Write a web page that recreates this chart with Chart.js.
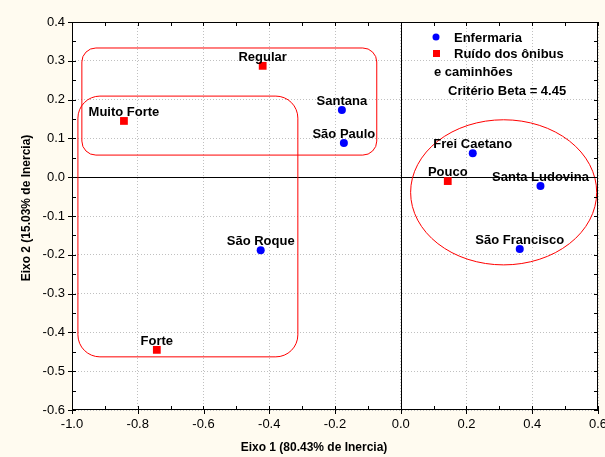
<!DOCTYPE html>
<html>
<head>
<meta charset="utf-8">
<script src="https://cdn.jsdelivr.net/npm/chart.js@4.4.0/dist/chart.umd.min.js"></script>
<style>
  html, body { margin: 0; padding: 0; background: #fffbf0; }
  #wrap { width: 605px; height: 457px; position: relative; }
</style>
</head>
<body>
<div id="wrap"><canvas id="caChart"></canvas></div>
<script>
// Enfermaria (blue circles)
const enfNames = ['Santana', 'São Paulo', 'São Roque', 'Frei Caetano', 'Santa Ludovina', 'São Francisco'];
const enfX = [-0.179, -0.173, -0.426, 0.219, 0.425, 0.362];
const enfY = [0.173, 0.088, -0.188, 0.062, -0.023, -0.185];

// Ruído dos ônibus e caminhões (red squares)
const ruidoNames = ['Regular', 'Muito Forte', 'Forte', 'Pouco'];
const ruidoX = [-0.42, -0.842, -0.742, 0.143];
const ruidoY = [0.287, 0.145, -0.445, -0.010];

// axis ticks
const xTicks = [-1.0, -0.8, -0.6, -0.4, -0.2, 0.0, 0.2, 0.4, 0.6];
const yTicks = [0.4, 0.3, 0.2, 0.1, 0.0, -0.1, -0.2, -0.3, -0.4, -0.5, -0.6];

// grouping outlines in data units: [x1, y1, x2, y2]
const groupRects = [[-0.97, 0.333, -0.073, 0.057], [-0.982, 0.209, -0.313, -0.463]];
const groupEllipse = [0.313, -0.039, 0.283, 0.187]; // cx, cy, rx, ry

const FONT = '"Liberation Sans", Arial, sans-serif';

function toPoints(xs, ys) {
    return xs.map((x, i) => ({ x: x, y: ys[i] }));
}

const overlayPlugin = {
    id: 'overlay',
    beforeDraw(chart) {
        const { ctx, chartArea: a } = chart;
        ctx.save();
        ctx.fillStyle = '#ffffff';
        ctx.fillRect(a.left, a.top, a.right - a.left, a.bottom - a.top);
        ctx.restore();
    },
    beforeDatasetsDraw(chart) {
        const { ctx, chartArea: a, scales: { x, y } } = chart;
        ctx.save();
        // zero lines
        ctx.strokeStyle = '#000';
        ctx.lineWidth = 1;
        ctx.beginPath();
        ctx.moveTo(Math.round(x.getPixelForValue(0)) + 0.5, a.top);
        ctx.lineTo(Math.round(x.getPixelForValue(0)) + 0.5, a.bottom);
        ctx.moveTo(a.left, Math.round(y.getPixelForValue(0)) + 0.5);
        ctx.lineTo(a.right, Math.round(y.getPixelForValue(0)) + 0.5);
        ctx.stroke();

        // red group outlines
        ctx.strokeStyle = '#ff0000';
        ctx.lineWidth = 1;
        const radii = [14, 22];
        groupRects.forEach((r, i) => {
            const x1 = x.getPixelForValue(r[0]), y1 = y.getPixelForValue(r[1]);
            const x2 = x.getPixelForValue(r[2]), y2 = y.getPixelForValue(r[3]);
            ctx.beginPath();
            ctx.roundRect(x1, y1, x2 - x1, y2 - y1, radii[i]);
            ctx.stroke();
        });
        const cx = x.getPixelForValue(groupEllipse[0]);
        const cy = y.getPixelForValue(groupEllipse[1]);
        const rx = x.getPixelForValue(groupEllipse[0] + groupEllipse[2]) - cx;
        const ry = cy - y.getPixelForValue(groupEllipse[1] + groupEllipse[3]);
        ctx.beginPath();
        ctx.ellipse(cx, cy, rx, ry, 0, 0, Math.PI * 2);
        ctx.stroke();
        ctx.restore();
    },
    afterDraw(chart) {
        const { ctx, chartArea: a, scales: { x, y } } = chart;
        ctx.save();

        // frame
        ctx.strokeStyle = '#000';
        ctx.lineWidth = 1;
        ctx.strokeRect(a.left + 0.5, a.top + 0.5, a.right - a.left - 1, a.bottom - a.top - 1);

        // minor ticks (inward) and major ticks (outward)
        ctx.beginPath();
        for (let v = -1.0; v <= 0.6001; v += 0.1) {
            const px = Math.round(x.getPixelForValue(v)) + 0.5;
            ctx.moveTo(px, a.bottom); ctx.lineTo(px, a.bottom - 4);
            ctx.moveTo(px, a.top); ctx.lineTo(px, a.top + 4);
        }
        xTicks.forEach(v => {
            const px = Math.round(x.getPixelForValue(v)) + 0.5;
            ctx.moveTo(px, a.bottom); ctx.lineTo(px, a.bottom + 4);
        });
        for (let v = -0.6; v <= 0.4001; v += 0.05) {
            const py = Math.round(y.getPixelForValue(v)) + 0.5;
            ctx.moveTo(a.left, py); ctx.lineTo(a.left + 4, py);
            ctx.moveTo(a.right, py); ctx.lineTo(a.right - 4, py);
        }
        yTicks.forEach(v => {
            const py = Math.round(y.getPixelForValue(v)) + 0.5;
            ctx.moveTo(a.left, py); ctx.lineTo(a.left - 4, py);
        });
        ctx.stroke();

        // point labels
        ctx.fillStyle = '#000';
        ctx.font = 'bold 13px ' + FONT;
        ctx.textAlign = 'center';
        ctx.textBaseline = 'alphabetic';
        enfNames.forEach((n, i) => {
            ctx.fillText(n, x.getPixelForValue(enfX[i]), y.getPixelForValue(enfY[i]) - 5);
        });
        ruidoNames.forEach((n, i) => {
            ctx.fillText(n, x.getPixelForValue(ruidoX[i]), y.getPixelForValue(ruidoY[i]) - 5);
        });

        // legend
        ctx.textAlign = 'left';
        ctx.fillStyle = '#0000ff';
        ctx.beginPath();
        ctx.arc(436, 37, 3.5, 0, Math.PI * 2);
        ctx.fill();
        ctx.fillStyle = '#ff0000';
        ctx.fillRect(433, 50, 7, 7);
        ctx.fillStyle = '#000';
        ctx.fillText('Enfermaria', 454, 42);
        ctx.fillText('Ruído dos ônibus', 454, 58);
        ctx.fillText('e caminhões', 434, 76);
        ctx.fillText('Critério Beta = 4.45', 448, 95);

        // axis titles
        ctx.font = 'bold 12px ' + FONT;
        ctx.textAlign = 'center';
        ctx.fillText('Eixo 1 (80.43% de Inercia)', 314, 451);
        ctx.translate(30, 208);
        ctx.rotate(-Math.PI / 2);
        ctx.fillText('Eixo 2 (15.03% de Inercia)', 0, 0);
        ctx.restore();
    }
};

const chart = new Chart(document.getElementById('caChart'), {
    type: 'scatter',
    data: {
        datasets: [
            {
                label: 'Enfermaria',
                data: toPoints(enfX, enfY),
                pointStyle: 'circle',
                pointRadius: 4,
                backgroundColor: '#0000ff',
                borderColor: '#0000ff',
                borderWidth: 0
            },
            {
                label: 'Ruído dos ônibus e caminhões',
                data: toPoints(ruidoX, ruidoY),
                pointStyle: 'rect',
                pointRadius: 5.5,
                backgroundColor: '#ff0000',
                borderColor: '#ff0000',
                borderWidth: 0
            }
        ]
    },
    options: {
        responsive: true,
        maintainAspectRatio: false,
        animation: false,
        layout: { padding: { top: 22, right: 7, left: 0, bottom: 0 } },
        plugins: {
            legend: { display: false },
            tooltip: { enabled: false }
        },
        scales: {
            x: {
                type: 'linear',
                min: -1.0,
                max: 0.6,
                afterFit: s => {
                    s.height = 47;
                    s.paddingLeft = 0;
                    s.paddingRight = 0;
                },
                afterBuildTicks: s => { s.ticks = xTicks.map(v => ({ value: v })); },
                grid: { color: '#c0c0c0', drawTicks: false },
                border: { display: false, dash: [1, 2] },
                ticks: {
                    color: '#000',
                    padding: 7,
                    font: { family: FONT, size: 13 },
                    callback: v => Number(v).toFixed(1)
                }
            },
            y: {
                type: 'linear',
                min: -0.6,
                max: 0.4,
                afterFit: s => {
                    s.width = 72;
                    s.paddingTop = 0;
                    s.paddingBottom = 0;
                },
                afterBuildTicks: s => { s.ticks = yTicks.map(v => ({ value: v })); },
                grid: { color: '#c0c0c0', drawTicks: false },
                border: { display: false, dash: [1, 2] },
                ticks: {
                    color: '#000',
                    padding: 7,
                    font: { family: FONT, size: 13 },
                    callback: v => Number(v).toFixed(1)
                }
            }
        }
    },
    plugins: [overlayPlugin]
});
</script>
</body>
</html>
